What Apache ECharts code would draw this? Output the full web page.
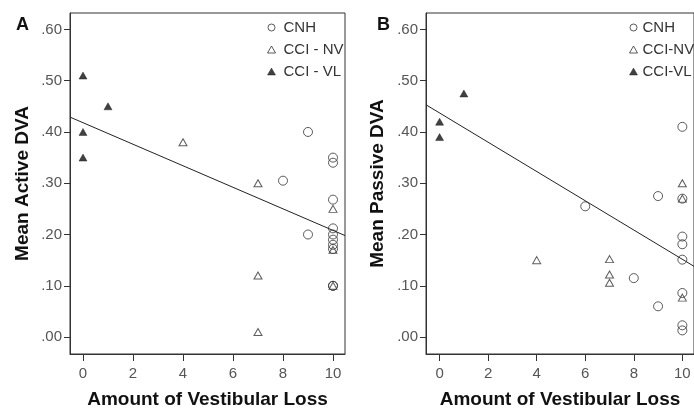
<!DOCTYPE html>
<html>
<head>
<meta charset="utf-8">
<script src="https://cdn.jsdelivr.net/npm/echarts@6/dist/echarts.min.js"></script>
<style>
html,body{margin:0;padding:0;background:#fff;}
#chart{width:694px;height:414px;}
</style>
</head>
<body>
<div id="chart"></div>
<script>
// ---- data ----
var xTicks = [0, 2, 4, 6, 8, 10];
var yTicks = [0, 0.1, 0.2, 0.3, 0.4, 0.5, 0.6];

// Panel A: Mean Active DVA
var cnhA = [[8,0.305],[9,0.40],[9,0.20],[10,0.35],[10,0.34],[10,0.268],[10,0.212],[10,0.20],[10,0.19],[10,0.18],[10,0.172],[10,0.10],[10,0.10]];
var nvA  = [[4,0.38],[7,0.30],[7,0.12],[7,0.01],[10,0.25],[10,0.17],[10,0.10]];
var vlA  = [[0,0.51],[0,0.40],[0,0.35],[1,0.45]];
var fitA = [[-0.52,0.429],[10.48,0.198]];

// Panel B: Mean Passive DVA
var cnhB = [[6,0.255],[8,0.115],[9,0.275],[9,0.06],[10,0.41],[10,0.27],[10,0.196],[10,0.181],[10,0.151],[10,0.086],[10,0.023],[10,0.013]];
var nvB  = [[4,0.15],[7,0.152],[7,0.122],[7,0.106],[10,0.30],[10,0.27],[10,0.077]];
var vlB  = [[0,0.42],[0,0.39],[1,0.475]];
var fitB = [[-0.56,0.453],[10.48,0.138]];

var namesA = ['CNH', 'CCI - NV', 'CCI - VL'];
var namesB = ['CNH', 'CCI-NV', 'CCI-VL'];

var FONT = 'Liberation Sans, Arial, sans-serif';
var INK = '#333';

function xAxisCfg(idx, min, max) {
  return {
    type: 'value', gridIndex: idx, min: min, max: max,
    name: 'Amount of Vestibular Loss', nameLocation: 'middle', nameGap: 36,
    nameTextStyle: {fontFamily: FONT, fontWeight: 'bold', fontSize: 19, color: '#111'},
    splitLine: {show: false},
    axisLine: {show: true, onZero: false, lineStyle: {color: INK, width: 1}},
    axisTick: {show: true, inside: false, length: 7, customValues: xTicks, lineStyle: {color: INK}},
    axisLabel: {customValues: xTicks, margin: 12, fontFamily: FONT, fontSize: 15, color: '#555'}
  };
}
function yAxisCfg(idx, name, gap) {
  return {
    type: 'value', gridIndex: idx, min: -0.033, max: 0.632,
    name: name, nameLocation: 'middle', nameGap: gap, nameRotate: 90,
    nameTextStyle: {fontFamily: FONT, fontWeight: 'bold', fontSize: 19, color: '#111'},
    splitLine: {show: false},
    axisLine: {show: true, onZero: false, lineStyle: {color: INK, width: 1}},
    axisTick: {show: true, inside: false, length: 6, customValues: yTicks, lineStyle: {color: INK}},
    axisLabel: {customValues: yTicks, margin: 8, fontFamily: FONT, fontSize: 15, color: '#555',
      formatter: function (v) { return v.toFixed(2).replace(/^0/, ''); }}
  };
}
var circleStyle = {color: 'transparent', borderColor: INK, borderWidth: 1};
var openTriStyle = {color: 'transparent', borderColor: INK, borderWidth: 1};
var fillTriStyle = {color: '#111', borderColor: '#111', borderWidth: 0.5};

function scatter(name, data, idx, kind) {
  var s = {type: 'scatter', name: name, data: data, xAxisIndex: idx, yAxisIndex: idx, z: 3, silent: true};
  if (kind === 'c') { s.symbol = 'circle'; s.symbolSize = 9; s.itemStyle = circleStyle; }
  else if (kind === 'o') { s.symbol = 'triangle'; s.symbolSize = [8, 7]; s.itemStyle = openTriStyle; }
  else { s.symbol = 'triangle'; s.symbolSize = [8, 7]; s.itemStyle = fillTriStyle; }
  return s;
}
function fit(data, idx) {
  return {type: 'line', data: data, xAxisIndex: idx, yAxisIndex: idx, showSymbol: false, silent: true,
    lineStyle: {color: '#222', width: 1}, z: 2};
}
function legendCfg(names, left, pad) {
  return {
    orient: 'vertical', left: left, top: 15, itemWidth: 8, itemHeight: 7, itemGap: 7,
    selectedMode: false,
    textStyle: {fontFamily: FONT, fontSize: 15, color: INK, lineHeight: 13, padding: [0, 0, 0, pad]},
    data: [
      {name: names[0], icon: 'circle', itemStyle: circleStyle},
      {name: names[1], icon: 'triangle', itemStyle: openTriStyle},
      {name: names[2], icon: 'triangle', itemStyle: fillTriStyle}
    ]
  };
}

var chart = echarts.init(document.getElementById('chart'), null, {renderer: 'canvas'});
chart.setOption({
  animation: false,
  backgroundColor: '#fff',
  title: [
    {text: 'A', left: 11, top: 11, textStyle: {fontFamily: FONT, fontWeight: 'bold', fontSize: 18, color: '#111'}},
    {text: 'B', left: 372, top: 11, textStyle: {fontFamily: FONT, fontWeight: 'bold', fontSize: 18, color: '#111'}}
  ],
  legend: [legendCfg(namesA, 262, 3), legendCfg(namesB, 624, 0)],
  grid: [
    {left: 70, top: 13, width: 275, height: 343, show: true, borderColor: INK, borderWidth: 1, backgroundColor: 'transparent'},
    {left: 426, top: 13, width: 274, height: 343, show: true, borderColor: INK, borderWidth: 1, backgroundColor: 'transparent'}
  ],
  xAxis: [xAxisCfg(0, -0.52, 10.48), xAxisCfg(1, -0.56, 10.48)],
  yAxis: [yAxisCfg(0, 'Mean Active DVA', 38), yAxisCfg(1, 'Mean Passive DVA', 39)],
  series: [
    fit(fitA, 0),
    scatter(namesA[0], cnhA, 0, 'c'),
    scatter(namesA[1], nvA, 0, 'o'),
    scatter(namesA[2], vlA, 0, 'f'),
    fit(fitB, 1),
    scatter(namesB[0], cnhB, 1, 'c'),
    scatter(namesB[1], nvB, 1, 'o'),
    scatter(namesB[2], vlB, 1, 'f')
  ]
});
</script>
</body>
</html>
